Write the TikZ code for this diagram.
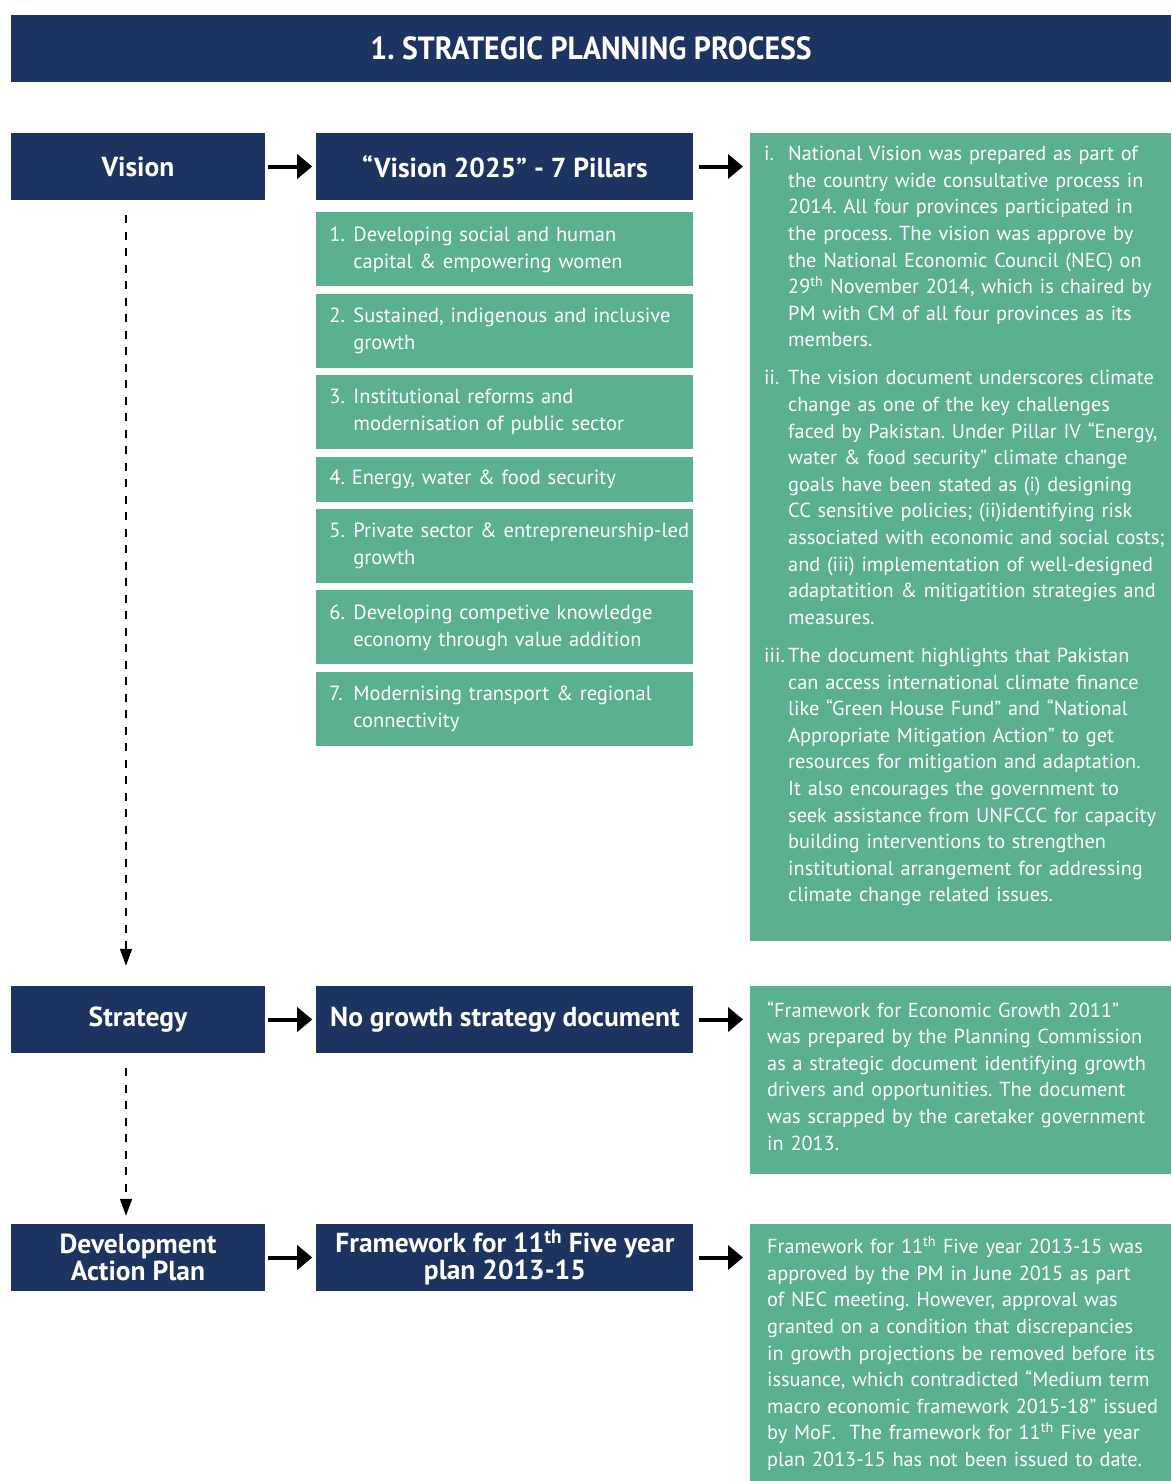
\documentclass[tikz,border=0pt]{standalone}
\usepackage{fontspec}
\setmainfont{PT Sans}
\newfontfamily\titlefont[FakeStretch=0.93]{PT Sans}
\usetikzlibrary{arrows.meta,positioning,calc}

\definecolor{navy}{HTML}{1D3461}
\definecolor{sage}{HTML}{5BB090}

% hanging item: label, then the lines
\newcommand{\hangitem}[2]{\hangindent=24pt\hangafter=1\noindent\makebox[24pt][l]{#1}#2\par}
\newcommand{\pillaritem}[2]{\leftskip=13pt\relax\hangitem{#1}{#2}}

\begin{document}
\frenchspacing
\hyphenpenalty=10000
\begin{tikzpicture}[x=1pt,y=-1pt,
  node distance=7pt and 51pt,
  head/.style={fill=navy, text=white, align=center, inner sep=0pt,
    minimum height=67pt, font=\bfseries\fontsize{27.5}{27}\selectfont},
  stage/.style={head, minimum width=254pt},
  output/.style={head, minimum width=377pt},
  pillar/.style={fill=sage, text=white, align=left, inner sep=0pt,
    text width=377pt, minimum height=74pt, font=\fontsize{20.5}{27}\selectfont},
  note/.style={fill=sage, anchor=north west, inner sep=0pt, minimum width=421pt},
  notetext/.style={text=white, anchor=north west, align=left, inner sep=0pt,
    text width=440pt, font=\fontsize{20.3}{26.6}\selectfont},
  arr/.style={-{Triangle[length=15pt,width=24pt]}, line width=4pt,
    shorten <=3pt, shorten >=4pt},
  dasharr/.style={-{Triangle[length=17pt,width=12pt]}, line width=1.5pt,
    dash pattern=on 8pt off 8.5pt}
]
\useasboundingbox (0,0) rectangle (1171,1481);

% title bar
\node[head, minimum width=1160pt, font=\titlefont\bfseries\fontsize{32}{33}\selectfont]
  (title) at (591,48.5) {1. STRATEGIC PLANNING PROCESS};

% vision row
\node[stage] (vision) at (138,166.5) {Vision};
\node[output, right=of vision] (pillarhead) {“Vision 2025” - 7 Pillars};
\node[pillar, below=12pt of pillarhead] (p1)
  {\pillaritem{1.}{Developing social and human\newline capital \& empowering women}};
\node[pillar, below=of p1] (p2)
  {\pillaritem{2.}{Sustained, indigenous and inclusive\newline growth}};
\node[pillar, below=of p2] (p3)
  {\pillaritem{3.}{Institutional reforms and\newline modernisation of public sector}};
\node[pillar, below=of p3, minimum height=45pt] (p4)
  {\leftskip=13pt\relax 4. Energy, water \& food security\par};
\node[pillar, below=of p4] (p5)
  {\pillaritem{5.}{Private sector \& entrepreneurship-led\newline growth}};
\node[pillar, below=of p5] (p6)
  {\pillaritem{6.}{Developing competive knowledge\newline economy through value addition}};
\node[pillar, below=of p6] (p7)
  {\pillaritem{7.}{Modernising transport \& regional\newline connectivity}};

\node[note, minimum height=808pt] (visionnote) at (750,133) {};
\node[notetext] (visiontext) at ($(visionnote.north west)+(14,13)$) {\parskip=11.5pt
  \hangitem{i.}{National Vision was prepared as part of\newline
    the country wide consultative process in\newline
    2014. All four provinces participated in\newline
    the process. The vision was approve by\newline
    the National Economic Council (NEC) on\newline
    29\textsuperscript{th} November 2014, which is chaired by\newline
    PM with CM of all four provinces as its\newline
    members.}
  \hangitem{ii.}{The vision document underscores climate\newline
    change as one of the key challenges\newline
    faced by Pakistan. Under Pillar IV “Energy,\newline
    water \& food security” climate change\newline
    goals have been stated as (i) designing\newline
    CC sensitive policies; (ii)identifying risk\newline
    associated with economic and social costs;\newline
    and (iii) implementation of well-designed\newline
    adaptatition \& mitigatition strategies and\newline
    measures.}
  \hangitem{iii.}{The document highlights that Pakistan\newline
    can access international climate finance\newline
    like “Green House Fund” and “National\newline
    Appropriate Mitigation Action” to get\newline
    resources for mitigation and adaptation.\newline
    It also encourages the government to\newline
    seek assistance from UNFCCC for capacity\newline
    building interventions to strengthen\newline
    institutional arrangement for addressing\newline
    climate change related issues.}};

% strategy row
\node[stage] (strategy) at (138,1019.5) {Strategy};
\node[output, right=of strategy] (nostrategy) {No growth strategy document};
\node[note, minimum height=188pt] (strategynote) at (750,986) {};
\node[notetext] (strategytext) at ($(strategynote.north west)+(17,15)$)
  {“Framework for Economic Growth 2011”\\
   was prepared by the Planning Commission\\
   as a strategic document identifying growth\\
   drivers and opportunities. The document\\
   was scrapped by the caretaker government\\
   in 2013.};

% development action plan row
\node[stage] (devplan) at (138,1257.5) {Development\\Action Plan};
\node[output, right=of devplan] (framework)
  {Framework for 11\textsuperscript{th} Five year\\plan 2013-15};
\node[note, minimum height=257pt] (plannote) at (750,1224) {};
\node[notetext] (plantext) at ($(plannote.north west)+(17,12)$)
  {Framework for 11\textsuperscript{th} Five year 2013-15 was\\
   approved by the PM in June 2015 as part\\
   of NEC meeting. However, approval was\\
   granted on a condition that discrepancies\\
   in growth projections be removed before its\\
   issuance, which contradicted “Medium term\\
   macro economic framework 2015-18” issued\\
   by MoF.\ \ The framework for 11\textsuperscript{th} Five year\\
   plan 2013-15 has not been issued to date.};

% connectors
\draw[arr] (vision) -- (pillarhead);
\draw[arr] (strategy) -- (nostrategy);
\draw[arr] (devplan) -- (framework);
\draw[arr, shorten <=5pt, shorten >=7pt] (pillarhead.east) -- (pillarhead.east -| visionnote.west);
\draw[arr, shorten <=5pt, shorten >=7pt] (nostrategy.east) -- (nostrategy.east -| strategynote.west);
\draw[arr, shorten <=5pt, shorten >=7pt] (framework.east) -- (framework.east -| plannote.west);
\draw[dasharr] ($(vision.south)+(-12,15)$) -- ($(strategy.north)+(-12,-20)$);
\draw[dasharr] ($(strategy.south)+(-12,15)$) -- ($(devplan.north)+(-12,-8)$);
\end{tikzpicture}
\end{document}
